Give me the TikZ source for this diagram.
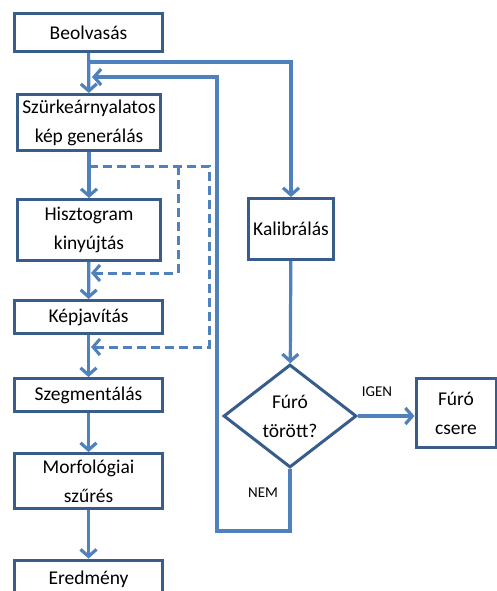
\documentclass[tikz,border=0pt]{standalone}
\usepackage{fontspec}
\setmainfont{Carlito}
\usepackage{tikz}
\usetikzlibrary{positioning,arrows.meta,shapes.geometric}
\definecolor{lineblue}{RGB}{79,129,189}
\definecolor{boxblue}{RGB}{56,93,138}

\begin{document}
\begin{tikzpicture}[x=1pt, y=-1pt,
    every node/.style={font=\fontsize{19.5}{29}\selectfont, align=center, inner sep=0pt},
    box/.style={rectangle, draw=boxblue, line width=3pt, fill=white},
    decision/.style={diamond, draw=boxblue, line width=3pt, fill=white},
    arr/.style={draw=lineblue, line width=3.2pt, -{Straight Barb[length=7pt,width=16pt]}},
    dasharr/.style={arr, line width=3pt, dash pattern=on 9pt off 5pt},
    lbl/.style={font=\fontsize{15}{18}\selectfont}
  ]
\useasboundingbox (0,0) rectangle (497,591);

% left column
\node[box, minimum width=148pt, minimum height=38pt] (beolv) at (88.5,32.5) {Beolvasás};
\node[box, minimum width=143pt, minimum height=56pt] (szurke) at (89,122.5) {Szürkeárnyalatos\\kép generálás};
\node[box, minimum width=143pt, minimum height=61pt] (hiszt) at (89,230) {Hisztogram\\kinyújtás};
\node[box, minimum width=148pt, minimum height=33pt] (kepjav) at (88.5,317) {Képjavítás};
\node[box, minimum width=148pt, minimum height=33pt] (szegm) at (88.5,395) {Szegmentálás};
\node[box, minimum width=148pt, minimum height=55pt] (morf) at (88.5,481) {Morfológiai\\szűrés};
\node[box, minimum width=148pt, minimum height=38pt] (ered) at (88.5,579) {Eredmény};

% right column
\node[box, minimum width=85pt, minimum height=61pt] (kalib) at (291,229) {Kalibrálás};
\node[decision, minimum width=133pt, minimum height=103pt] (furo) at (290,416) {Fúró\\törött?};
\node[box, minimum width=80pt, minimum height=69pt] (csere) at (456,413) {Fúró\\csere};

\node[lbl] (igen) at (377,392) {IGEN};
\node[lbl] (nem) at (263,493) {NEM};

% helper points
\coordinate (split) at (89,62);
\coordinate (join) at (92,77);
\coordinate (loop) at (217,531);
\coordinate (dstart) at (89,166);
\coordinate (douter) at (209,166);
\coordinate (dinner) at (178,166);
\coordinate (dend1) at (91,273);
\coordinate (dend2) at (91,347);

% main flow
\draw[arr] (beolv) -- (szurke);
\draw[arr] (szurke) -- (hiszt);
\draw[arr] (hiszt) -- (kepjav);
\draw[arr] (kepjav) -- (szegm);
\draw[arr] (szegm) -- (morf);
\draw[arr] (morf) -- (ered);

% calibration branch
\draw[arr] (split) -| (kalib.north);
\draw[arr] (kalib) -- (furo);
\draw[arr] (furo.east) -- (furo.east -| csere.west);
\draw[arr] (furo.south) |- (loop) |- (join);

% optional steps
\draw[dasharr] (dstart) -- (douter) |- (dend2);
\draw[dasharr] (dinner) |- (dend1);

\end{tikzpicture}
\end{document}
